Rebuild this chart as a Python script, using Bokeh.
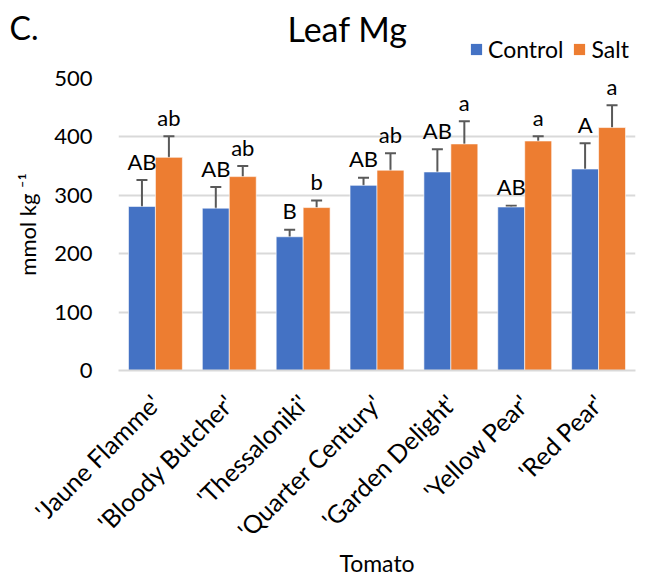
import math
from bokeh.plotting import figure
from bokeh.layouts import column
from bokeh.models import (ColumnDataSource, FactorRange, Whisker, TeeHead, Legend,
                          LegendItem, Label, FixedTicker)
from bokeh.transform import dodge
from bokeh.core.properties import value
from bokeh.embed import file_html
from bokeh.resources import INLINE

cultivars = ["'Jaune Flamme'", "'Bloody Butcher'", "'Thessaloniki'", "'Quarter Century'",
             "'Garden Delight'", "'Yellow Pear'", "'Red Pear'"]
control = [281, 278, 229, 317, 340, 280, 345]
control_err = [45, 36, 12, 13, 39, 2, 44]
salt = [365, 332, 279, 343, 388, 393, 416]
salt_err = [36, 18, 12, 29, 39, 8, 38]
control_letters = ["AB", "AB", "B", "AB", "AB", "AB", "A"]
salt_letters = ["ab", "ab", "b", "ab", "a", "a", "a"]
y_ticks = [0, 100, 200, 300, 400, 500]
series_names = ["Control", "Salt"]

FONT = "Lato"
BLUE = "#4472C4"
ORANGE = "#ED7D31"
ERR = "#595959"
GRID = "#D9D9D9"
W = 654
HEAD_H = 63
FL, FR = 118, 635          # frame left / right in page pixels

# ---------------- header: panel letter, title, legend ----------------
head = figure(width=W, height=HEAD_H, x_range=(FL, FR), y_range=(HEAD_H, 0),
              output_backend="svg", toolbar_location=None,
              x_axis_type=None, min_border=0)
head.outline_line_color = None
head.xgrid.grid_line_color = None
head.ygrid.grid_line_color = None
# panel letter shown through the header's left axis (not clipped by the frame)
head.yaxis.ticker = FixedTicker(ticks=[27])
head.yaxis.major_label_overrides = {27: "C."}
head.yaxis.axis_line_color = None
head.yaxis.major_tick_line_color = None
head.yaxis.minor_tick_line_color = None
head.yaxis.major_tick_out = 0
head.yaxis.minor_tick_out = 0
head.yaxis.major_label_standoff = 80
head.yaxis.major_label_text_font = FONT
head.yaxis.major_label_text_font_size = "32px"
head.yaxis.major_label_text_color = "#000000"

head.add_layout(Label(x=347, y=28, text="Leaf Mg", text_align="center",
                      text_baseline="middle", text_font=FONT, text_font_size="34px",
                      text_color="#000000"))

# legend keys (hidden renderers that only lend their colours to the legend)
h1 = head.vbar(x=[FL], top=[0], width=1, fill_color=BLUE, line_color=None, visible=False)
h2 = head.vbar(x=[FL], top=[0], width=1, fill_color=ORANGE, line_color=None, visible=False)
legend = Legend(items=[LegendItem(label=series_names[0], renderers=[h1]),
                       LegendItem(label=series_names[1], renderers=[h2])],
                location=(351, 0), orientation="horizontal",
                glyph_width=14, glyph_height=14, label_standoff=5, spacing=9,
                padding=0, margin=0, border_line_color=None, background_fill_alpha=0,
                inactive_fill_alpha=0,
                label_text_font=FONT, label_text_font_size="23px",
                label_text_color="#000000")
head.add_layout(legend)

# ---------------- main chart ----------------
src = ColumnDataSource(dict(
    cultivar=cultivars,
    control=control, salt=salt,
    c_hi=[v + e for v, e in zip(control, control_err)],
    c_lo=[v - e for v, e in zip(control, control_err)],
    s_hi=[v + e for v, e in zip(salt, salt_err)],
    s_lo=[v - e for v, e in zip(salt, salt_err)],
    c_let=control_letters, s_let=salt_letters,
))

p = figure(x_range=FactorRange(*cultivars), y_range=(0, 500),
           width=W, height=582 - HEAD_H, output_backend="svg", toolbar_location=None,
           min_border_left=FL, min_border_right=W - FR, min_border_top=78 - HEAD_H,
           min_border_bottom=212)
p.outline_line_color = None

BW = 0.365
off = BW / 2

p.vbar(x=dodge("cultivar", -off, range=p.x_range), top="control", width=BW,
       source=src, fill_color=BLUE, line_color="white", line_alpha=0.6, line_width=1)
p.vbar(x=dodge("cultivar", off, range=p.x_range), top="salt", width=BW,
       source=src, fill_color=ORANGE, line_color="white", line_alpha=0.6, line_width=1)

for xo, hi, lo in [(-off, "c_hi", "c_lo"), (off, "s_hi", "s_lo")]:
    w = Whisker(base=dodge("cultivar", xo, range=p.x_range), upper=hi, lower=lo, source=src,
                line_color=ERR, line_width=2,
                upper_head=TeeHead(size=11, line_color=ERR, line_width=2),
                lower_head=TeeHead(size=11, line_color=ERR, line_width=2))
    p.add_layout(w)

for xo, hi, let in [(-off, "c_hi", "c_let"), (off, "s_hi", "s_let")]:
    p.text(x=dodge("cultivar", xo, range=p.x_range), y=hi, text=let, source=src,
           text_align="center", text_baseline="middle", y_offset=-19,
           text_font=value(FONT), text_font_size="22px", text_color="#000000")

p.yaxis.ticker = FixedTicker(ticks=y_ticks)
p.yaxis.axis_line_color = None
p.yaxis.major_tick_line_color = None
p.yaxis.minor_tick_line_color = None
p.yaxis.major_tick_out = 0
p.yaxis.major_label_standoff = 26
p.yaxis.major_label_text_font = FONT
p.yaxis.major_label_text_font_size = "22px"
p.yaxis.major_label_text_color = "#000000"
p.yaxis.axis_label = "mmol kg \u207b\u00b9"
p.yaxis.axis_label_text_font = FONT
p.yaxis.axis_label_text_font_size = "22px"
p.yaxis.axis_label_text_font_style = "normal"
p.yaxis.axis_label_text_color = "#000000"
p.yaxis.axis_label_standoff = 10

p.xaxis.axis_line_color = GRID
p.xaxis.axis_line_width = 2
p.xaxis.major_tick_line_color = None
p.xaxis.major_tick_out = 0
p.xaxis.major_label_orientation = math.pi / 4
p.xaxis.major_label_standoff = 28
p.xaxis.major_label_text_font = FONT
p.xaxis.major_label_text_font_size = "25px"
p.xaxis.major_label_text_color = "#000000"
p.xaxis.axis_label = "Tomato"
p.xaxis.axis_label_text_font = FONT
p.xaxis.axis_label_text_font_size = "23px"
p.xaxis.axis_label_text_font_style = "normal"
p.xaxis.axis_label_text_color = "#000000"
p.xaxis.axis_label_standoff = -9

p.xgrid.grid_line_color = None
p.ygrid.grid_line_color = GRID
p.ygrid.grid_line_width = 2

layout = column(head, p, spacing=0)
open("out.html", "w").write(file_html(layout, INLINE))
